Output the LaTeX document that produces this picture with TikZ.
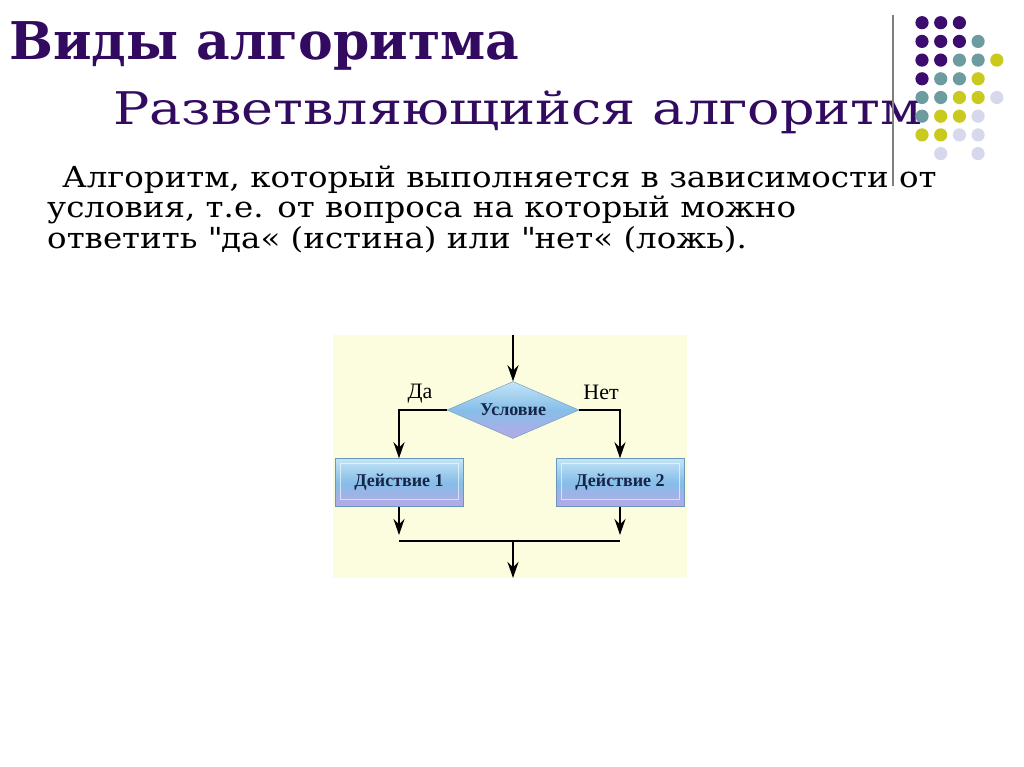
\documentclass[tikz,border=0pt]{standalone}
\usepackage{fontspec}
\setmainfont{DejaVu Serif}
\newfontfamily\subheadfont[FakeStretch=1.2]{DejaVu Serif}
\newfontfamily\bodyfont[FakeStretch=1.12]{DejaVu Serif}
\newfontfamily\chartfont{Liberation Serif}
\usetikzlibrary{shapes.geometric, arrows.meta}

\definecolor{titleviolet}{RGB}{50,10,96}
\definecolor{dotP}{RGB}{60,12,110}
\definecolor{dotT}{RGB}{108,156,160}
\definecolor{dotY}{RGB}{201,201,30}
\definecolor{dotL}{RGB}{216,216,236}
\definecolor{chartbg}{RGB}{252,252,222}
\definecolor{boxtop}{RGB}{196,228,247}
\definecolor{boxmid}{RGB}{134,190,232}
\definecolor{boxbot}{RGB}{182,168,230}
\definecolor{boxtext}{RGB}{24,36,72}

\tikzset{
  arr/.style={-{Stealth[length=16pt,width=11pt]}, line width=1.8pt},
  flowline/.style={line width=1.8pt},
  bevel/.style={top color=boxtop, bottom color=boxbot, middle color=boxmid,
    draw=boxmid!80!black, line width=0.4pt, text=boxtext,
    font=\chartfont\bfseries\fontsize{18}{20}\selectfont},
  actbox/.style={bevel, rectangle, minimum width=128pt, minimum height=48pt,
    path picture={\draw[white, opacity=0.6, line width=0.8pt]
      ([shift={(5pt,7pt)}]path picture bounding box.south west) rectangle
      ([shift={(-5pt,-5pt)}]path picture bounding box.north east);}},
  condbox/.style={bevel, diamond, aspect=2.3, minimum width=132pt,
    minimum height=57pt, inner sep=0pt},
  answer/.style={font=\chartfont\fontsize{22}{24}\selectfont},
  bodyline/.style={anchor=base west, inner sep=0pt,
    font=\bodyfont\fontsize{29}{34}\selectfont},
  dot/.style={radius=6.6pt}
}

\begin{document}
\begin{tikzpicture}[x=1pt,y=-1pt]
\useasboundingbox[fill=white] (0,0) rectangle (1024,767);
% Title and subtitle
\node[anchor=base west, inner sep=0pt, text=titleviolet,
  font=\bfseries\fontsize{52}{60}\selectfont] (title) at (9,60) {Виды алгоритма};
\node[anchor=base west, inner sep=0pt, text=titleviolet,
  font=\subheadfont\fontsize{45}{52}\selectfont] (subtitle) at (113,125) {Разветвляющийся алгоритм};
% Corner decoration
\draw[gray, line width=1.5pt] (893,15) -- (893,186);
\foreach \col/\row/\clr in {0/0/dotP,1/0/dotP,2/0/dotP,
    0/1/dotP,1/1/dotP,2/1/dotP,3/1/dotT,
    0/2/dotP,1/2/dotP,2/2/dotT,3/2/dotT,4/2/dotY,
    0/3/dotP,1/3/dotT,2/3/dotT,3/3/dotY,
    0/4/dotT,1/4/dotT,2/4/dotY,3/4/dotY,4/4/dotL,
    0/5/dotT,1/5/dotY,2/5/dotY,3/5/dotL,
    0/6/dotY,1/6/dotY,2/6/dotL,3/6/dotL,
    1/7/dotL,3/7/dotL}
  \fill[\clr] (922+18.7*\col,22.7+18.7*\row) circle [dot];
% Text
\node[bodyline] (line1) at (62,188) {Алгоритм, который выполняется в зависимости от};
\node[bodyline] (line2) at (47,218) {условия, т.е. от вопроса на который можно};
\node[bodyline] (line3) at (47,248) {ответить \textquotedbl да« (истина) или \textquotedbl нет« (ложь).};
% Flowchart
\fill[chartbg] (333,335) rectangle (687,578);
\coordinate (start) at (513,335);
\node[condbox] (cond) at (513,410) {Условие};
\node[actbox] (act1) at (399,482.5) {Действие 1};
\node[actbox] (act2) at (620,482.5) {Действие 2};
\coordinate (join) at (513,541);
\coordinate (finish) at (513,578);
\coordinate (join1) at (act1.south |- join);
\coordinate (join2) at (act2.south |- join);
\node[answer] (yes) at (420,394) {Да};
\node[answer] (no) at (601,392) {Нет};
\draw[arr] (start) -- (cond.north);
\draw[arr] (cond.west) -| (act1.north);
\draw[arr] (cond.east) -| (act2.north);
\draw[arr, shorten >=6pt] (act1.south) -- (join1);
\draw[arr, shorten >=6pt] (act2.south) -- (join2);
\draw[flowline] (join1) -- (join2);
\draw[arr] (join) -- (finish);
\end{tikzpicture}
\end{document}
